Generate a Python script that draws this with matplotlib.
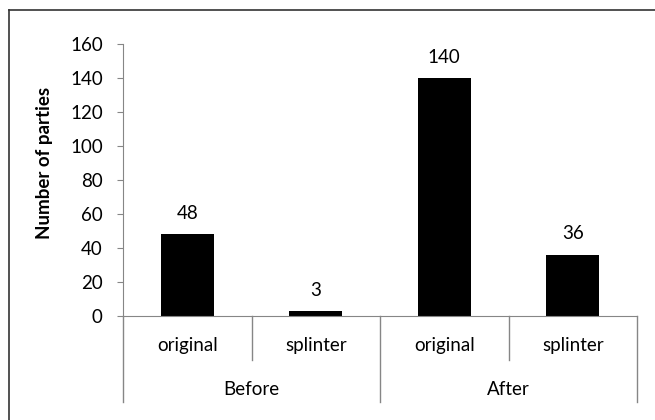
import matplotlib
matplotlib.use("Agg")
import matplotlib.pyplot as plt
from matplotlib.lines import Line2D

categories = ["original", "splinter", "original", "splinter"]
groups = ["Before", "After"]
values = [48, 3, 140, 36]
yticks = [0, 20, 40, 60, 80, 100, 120, 140, 160]

plt.rcParams['font.family'] = ['Lato', 'DejaVu Sans']
FS = 13.5

fig = plt.figure(figsize=(6.55, 4.2), dpi=100)
W, H = 655, 420
ax = fig.add_axes([123 / W, 1 - 316 / H, (637 - 123) / W, (316 - 44) / H])

x = list(range(len(values)))
bars = ax.bar(x, values, width=0.41, color="black")
for xi, v in zip(x, values):
    ax.annotate(str(v), (xi, v), xytext=(0, 15), textcoords="offset points",
                ha="center", va="center", fontsize=FS)

ax.set_xlim(-0.5, len(values) - 0.5)
ax.set_ylim(0, 160)
ax.set_yticks(yticks)
ax.set_yticklabels([str(t) for t in yticks], fontsize=FS)
ax.tick_params(axis="y", direction="out", length=4.5, color="#868686", pad=10)
ax.set_xticks([])
for s in ["top", "right"]:
    ax.spines[s].set_visible(False)
ax.spines["left"].set_color("#868686")
ax.spines["bottom"].set_color("#868686")
ylab = ax.set_ylabel("Number of parties", fontsize=FS, fontweight="bold")
ylab.set_va("center")
ax.yaxis.set_label_coords(-0.152, 0.5625)

tr = ax.get_xaxis_transform()
# separators
for xs in [-0.5, 1.5, 3.5]:
    ax.add_line(Line2D([xs, xs], [0, -0.316], transform=tr, color="#868686",
                       lw=1, clip_on=False))
for xs in [0.5, 2.5]:
    ax.add_line(Line2D([xs, xs], [0, -0.162], transform=tr, color="#868686",
                       lw=1, clip_on=False))
for xi, c in zip(x, categories):
    ax.text(xi, -0.11, c, transform=tr, ha="center", va="center", fontsize=FS)
for gi, g in enumerate(groups):
    ax.text(gi * 2 + 0.5, -0.272, g, transform=tr, ha="center", va="center", fontsize=FS)

# outer border (Excel chart area)
fig.add_artist(Line2D([9 / W, 9 / W], [0, 1 - 10 / H], transform=fig.transFigure,
                      color="#333333", lw=1.2))
fig.add_artist(Line2D([9 / W, 1], [1 - 10 / H, 1 - 10 / H], transform=fig.transFigure,
                      color="#333333", lw=1.2))

fig.savefig("out.png", dpi=100)
